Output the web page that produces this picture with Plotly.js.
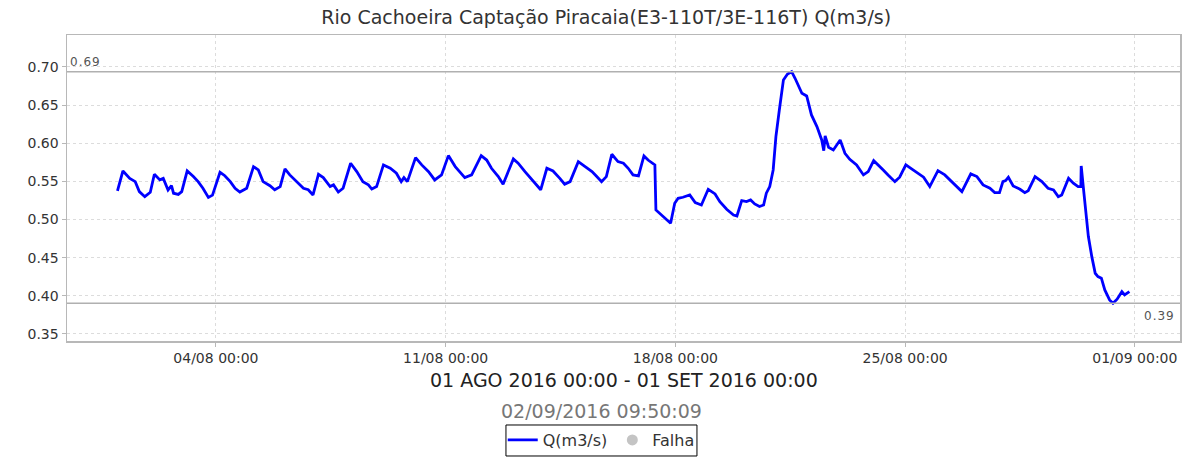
<!DOCTYPE html>
<html>
<head>
<meta charset="utf-8">
<script src="https://cdn.plot.ly/plotly-3.0.1.min.js"></script>
<style>
html,body{margin:0;padding:0;background:#fff;}
#chart{width:1184px;height:458px;}
.refnum text, text.refnum{letter-spacing:1px;}
</style>
</head>
<body>
<div id="chart"></div>
<script>
const chartTitle = "Rio Cachoeira Captação Piracaia(E3-110T/3E-116T) Q(m3/s)";
const periodLabel = "01 AGO 2016 00:00 - 01 SET 2016 00:00";
const queryTime = "02/09/2016 09:50:09";
const seriesName = "Q(m3/s)";
const failName = "Falha";
const tickDates = ["2016-08-04 00:00","2016-08-11 00:00","2016-08-18 00:00","2016-08-25 00:00","2016-09-01 00:00"];
const tickLabels = ["04/08 00:00","11/08 00:00","18/08 00:00","25/08 00:00","01/09 00:00"];
const yTicks = [0.35,0.40,0.45,0.50,0.55,0.60,0.65,0.70];

const times = [
"2016-08-01 00:00","2016-08-01 04:00","2016-08-01 09:00","2016-08-01 13:00","2016-08-01 16:00","2016-08-01 20:00",
"2016-08-02 00:00","2016-08-02 03:00","2016-08-02 07:00","2016-08-02 09:30","2016-08-02 13:00","2016-08-02 15:30","2016-08-02 17:00","2016-08-02 20:30","2016-08-02 23:00",
"2016-08-03 03:00","2016-08-03 07:30","2016-08-03 11:00","2016-08-03 14:30","2016-08-03 18:30","2016-08-03 21:30",
"2016-08-04 03:00","2016-08-04 06:30","2016-08-04 10:30","2016-08-04 14:00","2016-08-04 17:30","2016-08-04 22:30",
"2016-08-05 03:30","2016-08-05 07:00","2016-08-05 10:30","2016-08-05 15:30","2016-08-05 19:00","2016-08-05 23:00",
"2016-08-06 02:30","2016-08-06 06:00","2016-08-06 11:00","2016-08-06 16:00","2016-08-06 19:30","2016-08-06 23:00",
"2016-08-07 03:00","2016-08-07 06:30","2016-08-07 11:30","2016-08-07 14:00","2016-08-07 17:30","2016-08-07 21:00",
"2016-08-08 02:30","2016-08-08 07:00","2016-08-08 11:30","2016-08-08 15:30","2016-08-08 18:00","2016-08-08 21:30",
"2016-08-09 02:30","2016-08-09 07:30","2016-08-09 12:00","2016-08-09 15:30","2016-08-09 17:30","2016-08-09 20:00",
"2016-08-10 02:00","2016-08-10 06:30","2016-08-10 11:30","2016-08-10 16:00","2016-08-10 21:00",
"2016-08-11 02:00","2016-08-11 07:00","2016-08-11 10:30","2016-08-11 14:00","2016-08-11 19:00",
"2016-08-12 02:00","2016-08-12 06:00","2016-08-12 09:30","2016-08-12 14:30","2016-08-12 18:00",
"2016-08-13 01:30","2016-08-13 05:00","2016-08-13 10:00","2016-08-13 15:00","2016-08-13 18:30","2016-08-13 21:30",
"2016-08-14 02:00","2016-08-14 06:30","2016-08-14 11:30","2016-08-14 15:00","2016-08-14 19:00",
"2016-08-15 01:00","2016-08-15 06:00","2016-08-15 11:00","2016-08-15 14:30","2016-08-15 18:00","2016-08-15 21:30",
"2016-08-16 01:30","2016-08-16 06:00","2016-08-16 10:00","2016-08-16 13:30","2016-08-16 17:00","2016-08-16 21:00",
"2016-08-17 01:00","2016-08-17 04:00","2016-08-17 06:30","2016-08-17 09:00","2016-08-17 09:45","2016-08-17 14:00","2016-08-17 17:30","2016-08-17 20:30","2016-08-17 23:30",
"2016-08-18 02:00","2016-08-18 05:30","2016-08-18 10:30","2016-08-18 14:30","2016-08-18 19:00",
"2016-08-19 00:00","2016-08-19 05:00","2016-08-19 08:30","2016-08-19 13:30","2016-08-19 18:30","2016-08-19 21:00",
"2016-08-20 00:30","2016-08-20 04:00","2016-08-20 07:00","2016-08-20 10:00","2016-08-20 13:30","2016-08-20 16:30","2016-08-20 18:30","2016-08-20 21:00","2016-08-20 23:30",
"2016-08-21 01:30","2016-08-21 04:00","2016-08-21 07:00","2016-08-21 10:00","2016-08-21 13:00","2016-08-21 15:30","2016-08-21 18:00","2016-08-21 20:30",
"2016-08-22 00:00","2016-08-22 03:30","2016-08-22 07:30","2016-08-22 11:00","2016-08-22 12:30","2016-08-22 13:30","2016-08-22 16:00","2016-08-22 19:30",
"2016-08-23 00:30","2016-08-23 04:00","2016-08-23 07:30","2016-08-23 12:30","2016-08-23 17:30","2016-08-23 21:00",
"2016-08-24 01:00","2016-08-24 04:30","2016-08-24 08:00","2016-08-24 11:30","2016-08-24 16:30","2016-08-24 20:00",
"2016-08-25 00:30","2016-08-25 05:00","2016-08-25 09:30","2016-08-25 13:30","2016-08-25 18:00",
"2016-08-26 00:00","2016-08-26 05:00","2016-08-26 10:00","2016-08-26 13:30","2016-08-26 17:30",
"2016-08-27 00:00","2016-08-27 04:30","2016-08-27 09:00","2016-08-27 14:00","2016-08-27 17:30","2016-08-27 21:00","2016-08-27 23:30",
"2016-08-28 01:30","2016-08-28 03:30","2016-08-28 07:00","2016-08-28 12:00","2016-08-28 15:30","2016-08-28 18:00","2016-08-28 23:00",
"2016-08-29 04:00","2016-08-29 08:30","2016-08-29 12:30","2016-08-29 16:00","2016-08-29 18:30","2016-08-29 23:30",
"2016-08-30 03:00","2016-08-30 06:30","2016-08-30 08:30","2016-08-30 08:45","2016-08-30 10:30","2016-08-30 12:30","2016-08-30 14:00","2016-08-30 16:30","2016-08-30 19:00","2016-08-30 21:00","2016-08-30 23:30",
"2016-08-31 02:00","2016-08-31 05:30","2016-08-31 08:00","2016-08-31 11:00","2016-08-31 14:30","2016-08-31 16:30","2016-08-31 20:00"
];
const flow = [
0.5375,0.5637,0.554,0.5497,0.5366,0.530,
0.5358,0.5594,0.552,0.554,0.5388,0.5444,0.5345,0.533,0.5366,
0.5637,0.5563,0.5497,0.541,0.529,0.532,
0.562,0.5575,0.5497,0.541,0.536,0.541,
0.5693,0.565,0.5497,0.5444,0.539,0.5432,
0.5663,0.5585,0.5497,0.541,0.539,0.5322,
0.5594,0.555,0.5432,0.5454,0.536,0.541,
0.5738,0.5628,0.5497,0.5454,0.540,0.5432,
0.5716,0.5672,0.5607,0.5497,0.555,0.5497,
0.5811,0.5716,0.5628,0.5519,0.5585,
0.5838,0.5694,0.5628,0.555,0.5585,
0.5838,0.578,0.5672,0.5563,0.5463,
0.5794,0.5738,0.5628,0.5519,0.5454,0.539,
0.5672,0.5637,0.554,0.5463,0.5497,
0.5759,0.5694,0.5628,0.5563,0.5497,0.5563,
0.5856,0.5759,0.5738,0.5672,0.5585,0.5572,
0.5834,0.578,0.5746,0.5716,0.5126,0.506,0.4995,0.4952,0.5214,
0.5279,0.5292,0.5322,0.5222,0.5191,
0.5397,0.5336,0.5235,0.5135,0.506,0.5047,
0.5248,0.5235,0.5257,0.5205,0.517,0.5191,0.5345,0.5432,0.565,
0.6087,0.6436,0.683,0.6908,0.6938,0.6852,0.6764,0.6655,
0.662,0.6371,0.6218,0.6043,0.5903,0.6096,0.5948,0.5912,
0.6043,0.5869,0.579,0.5716,0.5585,0.5628,
0.5772,0.5716,0.565,0.5585,0.5497,0.5555,
0.5716,0.566,0.5607,0.5555,0.5432,
0.5641,0.5585,0.5497,0.5432,0.5366,
0.5598,0.5563,0.5454,0.541,0.5353,0.5353,0.5497,
0.551,0.5555,0.5441,0.5397,0.5353,0.5379,0.5563,
0.5497,0.541,0.5388,0.530,0.5322,0.5541,
0.5476,0.5432,0.5432,0.5703,0.5388,0.5083,0.4777,0.4514,0.4296,0.4253,0.4231,
0.4078,0.3946,0.3903,0.3956,0.4055,0.4012,0.4055
];
// no failure records in the period (legend entry only)
const failTimes = [null];
const failValues = [null];

const maxV = Math.max(...flow);
const minV = Math.min(...flow);
const font = "DejaVu Sans, Verdana, sans-serif";

const data = [
  {x: times, y: flow, type: "scatter", mode: "lines", name: seriesName,
   line: {color: "#0000ff", width: 2.8}, hoverinfo: "x+y"},
  {x: failTimes, y: failValues, type: "scatter", mode: "markers", name: failName,
   marker: {color: "#c4c4c4", size: 11, symbol: "circle"}}
];

const layout = {
  width: 1184, height: 458,
  margin: {l: 67, r: 4, t: 35, b: 117, autoexpand: false},
  paper_bgcolor: "#ffffff", plot_bgcolor: "#ffffff",
  font: {family: font, size: 12, color: "#333"},
  title: {text: chartTitle, font: {family: font, size: 19, color: "#333"}, x: 0.512, xanchor: "center", xref: "container", y: 0.962, yanchor: "middle"},
  showlegend: true,
  legend: {orientation: "h", x: 0.48, xanchor: "center", xref: "paper", y: -0.268, yanchor: "top",
    borderwidth: 0, bgcolor: "rgba(0,0,0,0)", font: {family: font, size: 16, color: "#333"},
    itemwidth: 30, tracegroupgap: 0},
  xaxis: {type: "date", range: ["2016-07-30 11:06", "2016-09-02 09:00"],
    tickvals: tickDates, ticktext: tickLabels, tickfont: {family: font, size: 14, color: "#333"},
    showgrid: true, gridcolor: "#dcdcdc", griddash: "3px,3px", gridwidth: 1,
    showline: true, linecolor: "#b8b8b8", linewidth: 1.5, mirror: true,
    ticks: "outside", ticklen: 4, tickcolor: "#b8b8b8", zeroline: false, fixedrange: true},
  yaxis: {range: [0.3408, 0.7419], tickvals: yTicks, tickformat: ".2f",
    tickfont: {family: font, size: 14, color: "#333"},
    showgrid: true, gridcolor: "#dcdcdc", griddash: "3px,3px", gridwidth: 1,
    showline: true, linecolor: "#b8b8b8", linewidth: 1.5, mirror: true,
    ticks: "outside", ticklen: 4, tickcolor: "#b8b8b8", zeroline: false, fixedrange: true},
  shapes: [
    {type: "line", xref: "paper", x0: 0, x1: 1, yref: "y", y0: maxV, y1: maxV, line: {color: "#b0b0b0", width: 1.5}},
    {type: "line", xref: "paper", x0: 0, x1: 1, yref: "y", y0: minV, y1: minV, line: {color: "#b0b0b0", width: 1.5}},
    // legend frame
    {type: "rect", xref: "paper", yref: "paper", x0: 0.3944, x1: 0.566, y0: -0.3758, y1: -0.2745,
     line: {color: "#000", width: 1}, fillcolor: "rgba(0,0,0,0)", layer: "above"}
  ],
  annotations: [
    {xref: "paper", x: 0, xanchor: "left", xshift: 3, yref: "y", y: maxV, yanchor: "bottom", yshift: 1,
     text: maxV.toFixed(2), showarrow: false, font: {family: font, size: 12, color: "#555"}},
    {xref: "paper", x: 1, xanchor: "right", xshift: -5, yref: "y", y: minV, yanchor: "top", yshift: -4,
     text: minV.toFixed(2), showarrow: false, font: {family: font, size: 12, color: "#555"}},
    {xref: "paper", x: 0.5, xanchor: "center", yref: "paper", y: -0.1275, yanchor: "middle",
     text: periodLabel, showarrow: false, font: {family: font, size: 19, color: "#222"}},
    {xref: "paper", x: 0.4798, xanchor: "center", yref: "paper", y: -0.2288, yanchor: "middle",
     text: queryTime, showarrow: false, font: {family: font, size: 19, color: "#777"}}
  ]
};

Plotly.newPlot("chart", data, layout, {displayModeBar: false, staticPlot: true}).then(function(){
  var ann = document.querySelectorAll(".annotation");
  if (ann[0]) ann[0].classList.add("refnum");
  if (ann[1]) ann[1].classList.add("refnum");
});
</script>
</body>
</html>
